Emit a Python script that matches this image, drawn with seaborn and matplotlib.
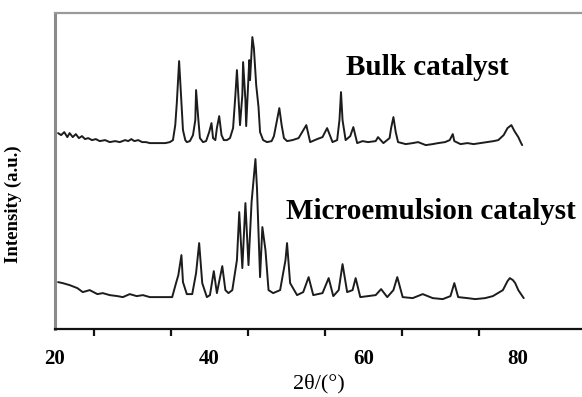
import numpy as np
import pandas as pd
import matplotlib.pyplot as plt
import seaborn as sns

# XRD patterns (2theta in degrees, intensity in a.u., bulk trace offset upward)
two_theta_bulk = [20.4, 20.8, 21.2, 21.6, 21.9, 22.3, 22.7, 23.1, 23.5, 23.9, 24.3, 24.8,
                  25.3, 25.8, 26.5, 27.1, 27.8, 28.4, 29.1, 29.5, 29.9, 30.3, 30.8, 31.3,
                  31.8, 32.3, 33.0, 33.6, 34.3, 34.9, 35.3, 35.6, 35.8, 36.1, 36.4, 36.6,
                  36.9, 37.1, 37.5, 37.9, 38.2, 38.3, 38.6, 38.8, 39.2, 39.6, 40.0, 40.3,
                  40.5, 40.8, 41.0, 41.3, 41.6, 41.9, 42.3, 42.7, 43.1, 43.4, 43.6, 43.9,
                  44.0, 44.3, 44.4, 44.7, 44.8, 44.9, 45.2, 45.3, 45.6, 45.8, 46.1, 46.4,
                  46.6, 47.0, 47.5, 48.1, 48.4, 48.8, 49.1, 49.4, 49.7, 50.1, 50.8, 51.6,
                  52.6, 53.1, 54.0, 54.7, 55.3, 56.0, 56.6, 56.9, 57.1, 57.3, 57.7, 58.3,
                  58.7, 59.2, 59.9, 60.6, 61.6, 61.9, 62.6, 63.4, 63.6, 63.9, 64.2, 64.5,
                  65.5, 66.4, 67.1, 68.1, 69.0, 69.7, 70.6, 71.2, 71.6, 71.8, 72.6, 73.5,
                  74.3, 75.2, 76.1, 76.9, 77.5, 78.2, 78.7, 79.2, 79.6, 80.1, 80.4, 80.6]
intensity_bulk = [196, 194, 197, 192, 196, 192, 195, 191, 193, 190, 191, 189,
                  190, 188, 189, 187, 188, 187, 189, 188, 190, 188, 189, 187,
                  187, 186, 186, 186, 186, 187, 189, 204, 226, 268, 226, 199,
                  189, 187, 188, 194, 209, 239, 209, 191, 187, 188, 197, 206,
                  191, 189, 201, 213, 194, 189, 189, 191, 201, 234, 259, 219,
                  204, 234, 267, 229, 203, 219, 269, 249, 292, 281, 244, 222,
                  197, 189, 187, 188, 193, 209, 221, 204, 191, 188, 189, 191,
                  204, 187, 190, 192, 201, 187, 189, 209, 237, 209, 189, 193,
                  202, 186, 188, 187, 188, 192, 186, 191, 201, 212, 197, 187,
                  185, 186, 187, 184, 185, 186, 187, 189, 195, 188, 185, 186,
                  185, 186, 187, 188, 189, 194, 201, 204, 198, 192, 187, 184]

two_theta_micro = [20.4, 21.0, 21.9, 22.9, 23.6, 24.5, 25.5, 26.2, 27.1, 28.1, 28.8, 29.7,
                   30.6, 31.4, 32.3, 33.6, 35.2, 35.7, 36.0, 36.4, 36.6, 37.1, 37.8, 38.3,
                   38.7, 39.1, 39.7, 40.1, 40.6, 41.0, 41.7, 42.1, 42.5, 43.0, 43.6, 43.9,
                   44.3, 44.7, 45.1, 45.5, 46.0, 46.2, 46.6, 46.9, 47.3, 47.7, 48.3, 49.2,
                   49.9, 50.1, 50.5, 51.4, 52.2, 52.9, 53.5, 54.7, 55.5, 56.1, 56.8, 57.3,
                   57.9, 58.6, 59.0, 59.6, 60.6, 61.6, 62.3, 63.1, 63.9, 64.4, 65.1, 66.4,
                   67.7, 69.0, 70.3, 71.3, 71.8, 72.3, 73.5, 74.5, 75.8, 76.8, 78.1, 78.7,
                   79.0, 79.4, 79.7, 80.1, 80.8]
intensity_micro = [47, 46, 44, 41, 37, 39, 35, 36, 34, 33, 32, 35,
                   33, 34, 32, 32, 32, 46, 54, 74, 47, 35, 35, 56,
                   86, 46, 32, 34, 58, 36, 63, 39, 36, 39, 69, 117,
                   61, 126, 64, 127, 170, 141, 52, 102, 79, 39, 36, 39,
                   69, 86, 46, 34, 37, 52, 34, 36, 51, 33, 39, 65,
                   37, 39, 51, 32, 33, 34, 40, 32, 39, 52, 32, 31,
                   35, 31, 30, 33, 46, 32, 31, 30, 31, 33, 39, 48,
                   51, 49, 46, 39, 31]

sns.set_style('white')
plt.rcParams['font.family'] = ['Liberation Serif', 'DejaVu Serif']
plt.rcParams['text.color'] = 'black'
plt.rcParams['axes.labelcolor'] = 'black'
plt.rcParams['xtick.color'] = 'black'

fig = plt.figure(figsize=(5.82, 3.97), dpi=100)
ax = fig.add_axes([0.0945, 0.171, 0.906, 0.796])

line_color = '#1c1c1c'
sns.lineplot(x=two_theta_bulk, y=intensity_bulk, ax=ax, color=line_color,
             linewidth=1.4, sort=False, estimator=None)
sns.lineplot(x=two_theta_micro, y=intensity_micro, ax=ax, color=line_color,
             linewidth=1.4, sort=False, estimator=None)

ax.set_xlim(20, 88.4)
ax.set_ylim(0, 316)

ax.set_xticks([20, 30, 40, 50, 60, 70, 80], labels=['20', '', '40', '', '60', '', '80'])
ax.set_xticks([25, 35, 45, 55, 65, 75], minor=True)
ax.set_yticks([])
ax.tick_params(axis='x', which='major', direction='out', length=9, width=1.6,
               color='#111111', pad=5, labelsize=15)
ax.tick_params(axis='x', which='minor', direction='out', length=5, width=1.6,
               color='#111111', bottom=True)
for lbl in ax.get_xticklabels():
    lbl.set_fontweight('bold')

ax.spines['right'].set_visible(False)
ax.spines['left'].set_color('#8a8a8a')
ax.spines['left'].set_linewidth(2.2)
ax.spines['top'].set_color('#9a9a9a')
ax.spines['top'].set_linewidth(1.6)
ax.spines['bottom'].set_color('#111111')
ax.spines['bottom'].set_linewidth(1.6)

ax.set_xlabel('2θ/(°)', fontsize=16, labelpad=4)
ax.set_ylabel('Intensity (a.u.)', fontsize=13.5, fontweight='bold')
ax.yaxis.set_label_coords(-0.063, 0.395)

ax.text(68.3, 262, 'Bulk catalyst', fontsize=21, fontweight='bold',
        ha='center', va='center')
ax.text(68.7, 118, 'Microemulsion catalyst', fontsize=21, fontweight='bold',
        ha='center', va='center')

fig.savefig('out.png', dpi=100)
